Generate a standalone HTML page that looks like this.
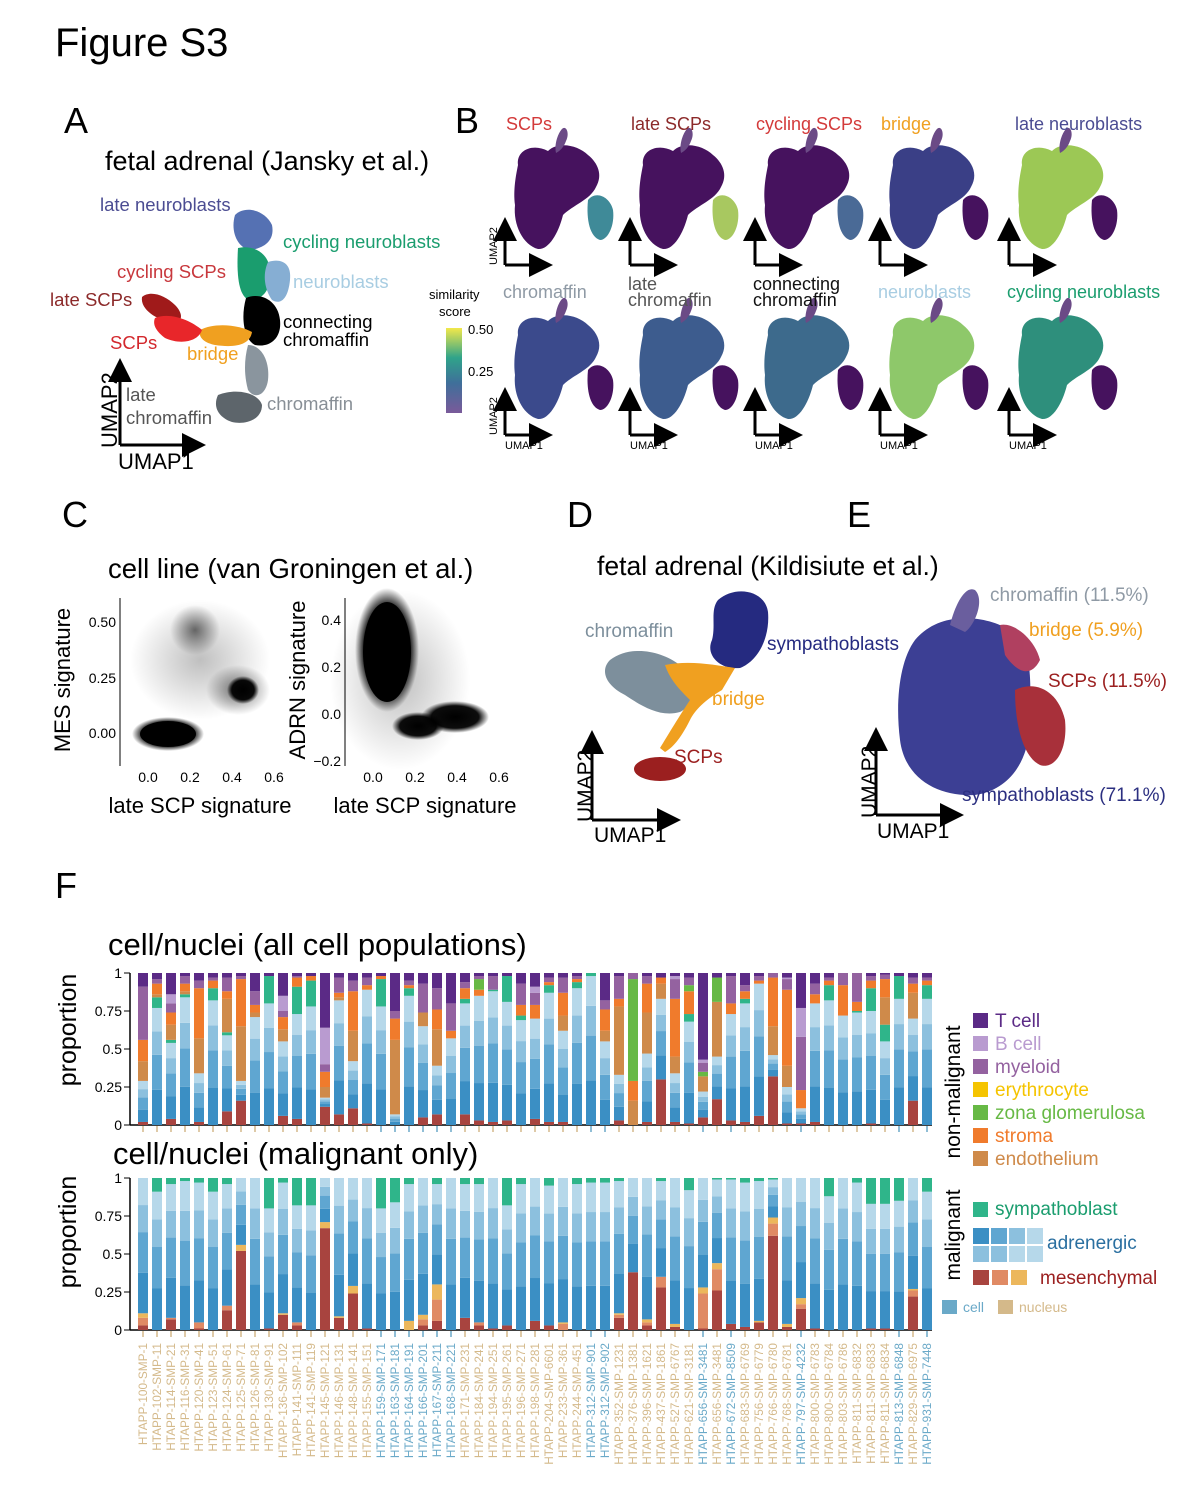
<!DOCTYPE html>
<html><head><meta charset="utf-8">
<style>
body{margin:0;background:#fff;}
svg text{font-family:"Liberation Sans",Arial,sans-serif;}
</style></head>
<body>
<svg id="fig" width="1200" height="1491" viewBox="0 0 1200 1491" xmlns="http://www.w3.org/2000/svg">
<defs>
  <linearGradient id="viridis" x1="0" y1="1" x2="0" y2="0">
    <stop offset="0" stop-color="#7a5a9a"/><stop offset="0.35" stop-color="#3f6f9a"/><stop offset="0.65" stop-color="#2fa38a"/><stop offset="1" stop-color="#f2e84a"/>
  </linearGradient>
  <radialGradient id="dense"><stop offset="0" stop-color="#000" stop-opacity="1"/><stop offset="0.7" stop-color="#000" stop-opacity="0.95"/><stop offset="1" stop-color="#000" stop-opacity="0"/></radialGradient>
  <radialGradient id="sparse"><stop offset="0" stop-color="#000" stop-opacity="0.55"/><stop offset="1" stop-color="#000" stop-opacity="0"/></radialGradient>
  <radialGradient id="faint"><stop offset="0" stop-color="#000" stop-opacity="0.25"/><stop offset="1" stop-color="#000" stop-opacity="0"/></radialGradient>
  <marker id="arr" markerWidth="8" markerHeight="8" refX="6" refY="4" orient="auto"><path d="M0,0 L8,4 L0,8 z" fill="#000"/></marker>
  <path id="bmain" d="M0,20 C-2,5 15,-2 30,6 C40,-4 60,0 70,10 C80,18 85,30 78,42 C72,55 55,60 45,70 C40,90 30,105 20,104 C5,100 -5,80 -3,60 C-5,45 -2,30 0,20 Z"/>
  <path id="bsat" d="M70,55 C78,45 92,52 95,65 C97,80 90,95 82,95 C72,92 68,75 70,55 Z"/>
  <path id="btop" d="M38,8 C36,0 40,-12 44,-16 C48,-20 52,-12 48,-4 C46,2 42,6 38,8 Z"/>
</defs>

<text x="55" y="56" font-size="40">Figure S3</text>

<!-- Panel A -->
<g>
<text x="64" y="133" font-size="36">A</text>
<text x="105" y="170" font-size="27">fetal adrenal (Jansky et al.)</text>
<g>
  <path d="M235,215 C245,205 265,210 272,225 C275,240 265,248 250,250 C238,248 230,232 235,215Z" fill="#5571b3"/>
  <path d="M238,248 C250,245 268,250 270,270 C272,290 262,300 250,300 C240,298 236,280 238,248Z" fill="#1a9d6e"/>
  <path d="M268,262 C280,258 292,262 290,280 C288,300 280,305 272,300 C265,290 262,275 268,262Z" fill="#86aed3"/>
  <path d="M246,298 C260,292 278,300 280,320 C282,338 270,348 255,345 C245,340 240,320 246,298Z" fill="#000"/>
  <path d="M200,330 C215,322 240,325 252,332 C250,345 235,348 215,345 C205,343 198,338 200,330Z" fill="#f0a020"/>
  <path d="M142,297 C150,290 165,295 175,305 C185,315 182,325 170,322 C158,320 140,310 142,297Z" fill="#a01a1a"/>
  <path d="M155,318 C170,312 190,320 202,330 C198,342 180,345 165,338 C157,332 152,325 155,318Z" fill="#e8262a"/>
  <path d="M248,345 C262,345 270,362 268,380 C266,395 255,400 248,390 C244,375 244,360 248,345Z" fill="#8a959e"/>
  <path d="M218,395 C235,388 258,392 262,405 C262,420 245,425 232,422 C220,418 212,408 218,395Z" fill="#5d656b"/>
</g>
<text x="100" y="211" font-size="18.5" fill="#4b4c92">late neuroblasts</text>
<text x="283" y="248" font-size="18.5" fill="#1a9d6e">cycling neuroblasts</text>
<text x="117" y="278" font-size="18.5" fill="#c8383d">cycling SCPs</text>
<text x="293" y="288" font-size="18.5" fill="#a8cde2">neuroblasts</text>
<text x="50" y="306" font-size="18.5" fill="#8c2a2a">late SCPs</text>
<text x="283" y="328" font-size="18.5">connecting</text>
<text x="283" y="346" font-size="18.5">chromaffin</text>
<text x="110" y="349" font-size="18.5" fill="#d3282d">SCPs</text>
<text x="187" y="360" font-size="18.5" fill="#f0a020">bridge</text>
<text x="126" y="401" font-size="18.5" fill="#555">late</text>
<text x="126" y="424" font-size="18.5" fill="#555">chromaffin</text>
<text x="267" y="410" font-size="18.5" fill="#888f96">chromaffin</text>
<line x1="120" y1="445" x2="120" y2="364" stroke="#000" stroke-width="3" marker-end="url(#arr)"/>
<line x1="120" y1="445" x2="200" y2="445" stroke="#000" stroke-width="3" marker-end="url(#arr)"/>
<text x="118" y="469" font-size="22">UMAP1</text>
<text transform="translate(117,448) rotate(-90)" font-size="22">UMAP2</text>
</g>

<!-- Panel B -->
<g id="panelB">
<text x="455" y="133" font-size="36">B</text>
<text x="429" y="299" font-size="13">similarity</text>
<text x="439" y="316" font-size="13">score</text>
<rect x="446" y="328" width="16" height="85" fill="url(#viridis)"/>
<text x="468" y="334" font-size="13">0.50</text>
<text x="468" y="376" font-size="13">0.25</text>
</g>

<!-- Panel C -->
<g>
<text x="62" y="527" font-size="36">C</text>
<text x="108" y="578" font-size="27.5">cell line (van Groningen et al.)</text>
<g>
  <line x1="120" y1="598" x2="120" y2="766" stroke="#000"/>
  <ellipse cx="200" cy="660" rx="70" ry="60" fill="url(#faint)"/>
  <ellipse cx="195" cy="630" rx="25" ry="25" fill="url(#sparse)"/>
  <ellipse cx="238" cy="690" rx="32" ry="25" fill="url(#sparse)"/>
  <ellipse cx="243" cy="690" rx="16" ry="14" fill="url(#dense)"/>
  <ellipse cx="168" cy="734" rx="36" ry="17" fill="url(#dense)"/>
  <ellipse cx="168" cy="734" rx="28" ry="13" fill="#000"/>
  <text x="148" y="782" font-size="14" text-anchor="middle">0.0</text><text x="190" y="782" font-size="14" text-anchor="middle">0.2</text>
  <text x="232" y="782" font-size="14" text-anchor="middle">0.4</text><text x="274" y="782" font-size="14" text-anchor="middle">0.6</text>
  <text x="116" y="627" font-size="14" text-anchor="end">0.50</text><text x="116" y="683" font-size="14" text-anchor="end">0.25</text><text x="116" y="738" font-size="14" text-anchor="end">0.00</text>
  <text x="200" y="813" font-size="22" text-anchor="middle">late SCP signature</text>
  <text transform="translate(70,680) rotate(-90)" font-size="22" text-anchor="middle">MES signature</text>
</g>
<g>
  <line x1="345" y1="598" x2="345" y2="766" stroke="#000"/>
  <ellipse cx="400" cy="680" rx="70" ry="90" fill="url(#faint)"/>
  <ellipse cx="387" cy="650" rx="32" ry="62" fill="url(#dense)"/>
  <ellipse cx="387" cy="652" rx="24" ry="50" fill="#000"/>
  <ellipse cx="455" cy="717" rx="34" ry="16" fill="url(#dense)"/>
  <ellipse cx="418" cy="726" rx="26" ry="14" fill="url(#dense)"/>
  <text x="373" y="782" font-size="14" text-anchor="middle">0.0</text><text x="415" y="782" font-size="14" text-anchor="middle">0.2</text>
  <text x="457" y="782" font-size="14" text-anchor="middle">0.4</text><text x="499" y="782" font-size="14" text-anchor="middle">0.6</text>
  <text x="341" y="625" font-size="14" text-anchor="end">0.4</text><text x="341" y="672" font-size="14" text-anchor="end">0.2</text>
  <text x="341" y="719" font-size="14" text-anchor="end">0.0</text><text x="341" y="766" font-size="14" text-anchor="end">−0.2</text>
  <text x="425" y="813" font-size="22" text-anchor="middle">late SCP signature</text>
  <text transform="translate(305,680) rotate(-90)" font-size="22" text-anchor="middle">ADRN signature</text>
</g>
</g>

<!-- Panel D -->
<g>
<text x="567" y="527" font-size="36">D</text>
<text x="597" y="575" font-size="26.5">fetal adrenal (Kildisiute et al.)</text>
<path d="M610,660 C630,645 660,650 680,665 C700,680 695,705 680,712 C660,718 640,705 625,695 C605,685 600,670 610,660Z" fill="#7d8f9c"/>
<path d="M718,600 C735,585 765,590 768,612 C770,635 760,660 740,668 C720,670 705,655 712,640 C716,625 710,610 718,600Z" fill="#252a80"/>
<path d="M665,665 C690,660 715,665 735,668 L722,690 C705,700 695,710 690,720 C680,740 672,748 665,752 L660,748 C668,735 680,715 690,700 C680,690 670,680 665,665Z" fill="#f0a020"/>
<ellipse cx="660" cy="769" rx="26" ry="12" fill="#9b1f1f"/>
<text x="585" y="637" font-size="19" fill="#7d8f9c">chromaffin</text>
<text x="767" y="650" font-size="19" fill="#252a80">sympathoblasts</text>
<text x="712" y="705" font-size="19" fill="#f0a020">bridge</text>
<text x="674" y="763" font-size="19" fill="#9b1f1f">SCPs</text>
<line x1="592" y1="820" x2="592" y2="736" stroke="#000" stroke-width="3" marker-end="url(#arr)"/>
<line x1="592" y1="820" x2="675" y2="820" stroke="#000" stroke-width="3" marker-end="url(#arr)"/>
<text x="594" y="842" font-size="21">UMAP1</text>
<text transform="translate(592,822) rotate(-90)" font-size="21">UMAP2</text>
</g>

<!-- Panel E -->
<g>
<text x="847" y="527" font-size="36">E</text>
<path d="M915,640 C940,610 985,615 1010,630 C1035,645 1030,690 1030,720 C1030,760 1010,790 975,795 C940,797 905,780 900,740 C895,700 900,660 915,640Z" fill="#3c3f94"/>
<path d="M950,625 C955,605 965,585 975,590 C985,600 975,625 965,632Z" fill="#6a5e9e"/>
<path d="M1015,690 C1035,680 1058,690 1065,720 C1068,750 1055,770 1040,765 C1025,758 1015,730 1015,690Z" fill="#a8303a"/>
<path d="M1000,625 C1015,622 1035,640 1040,660 C1030,680 1015,670 1005,655Z" fill="#b04060"/>
<text x="990" y="601" font-size="19" fill="#8f9aa5">chromaffin (11.5%)</text>
<text x="1029" y="636" font-size="19" fill="#f0a020">bridge (5.9%)</text>
<text x="1048" y="687" font-size="19" fill="#9b1f1f">SCPs (11.5%)</text>
<text x="962" y="801" font-size="19" fill="#2b2f80">sympathoblasts (71.1%)</text>
<line x1="876" y1="815" x2="876" y2="733" stroke="#000" stroke-width="3" marker-end="url(#arr)"/>
<line x1="876" y1="815" x2="958" y2="815" stroke="#000" stroke-width="3" marker-end="url(#arr)"/>
<text x="877" y="838" font-size="21">UMAP1</text>
<text transform="translate(876,818) rotate(-90)" font-size="21">UMAP2</text>
</g>

<!-- Panel F -->
<g id="panelF">
<text x="55" y="898" font-size="36">F</text>
<text x="108" y="955" font-size="31">cell/nuclei (all cell populations)</text>
<text x="113" y="1164" font-size="31">cell/nuclei (malignant only)</text>
<text transform="translate(76,1030) rotate(-90)" font-size="25" text-anchor="middle">proportion</text>
<text transform="translate(76,1232) rotate(-90)" font-size="25" text-anchor="middle">proportion</text>
</g>
<g id="legend">
<text transform="translate(960,1092) rotate(-90)" font-size="21" text-anchor="middle">non-malignant</text>
<text transform="translate(960,1235) rotate(-90)" font-size="21" text-anchor="middle">malignant</text>
</g>
</svg>
<script>
const NS='http://www.w3.org/2000/svg';
function mk(tag,attrs,parent){const e=document.createElementNS(NS,tag);for(const k in attrs)e.setAttribute(k,attrs[k]);(parent||document.getElementById('fig')).appendChild(e);return e;}

// ---- Panel B small UMAPs ----
const bTitles=['SCPs','late SCPs','cycling SCPs','bridge','late neuroblasts','chromaffin','late chromaffin','connecting chromaffin','neuroblasts','cycling neuroblasts'];
const bTitleColors=['#d33a3a','#8c2a2a','#d33a3a','#f0a020','#4b4c92','#8f9aa5','#555','#111','#a8cde2','#1a9d6e'];
const bMainColor=['#46125e','#46125e','#46125e','#3a3f86','#9cc855','#3b4a8c','#3d5c8e','#3d6a8c','#8ec86a','#2e8f7c'];
const bSatColor=['#3f8a98','#a8c860','#4a6a96','#46125e','#46125e','#46125e','#46125e','#46125e','#46125e','#46125e'];
const bCols=[518,643,768,893,1022];
const bRows=[145,315];
const pB=document.getElementById('panelB');
for(let i=0;i<10;i++){
  const x=bCols[i%5], y=bRows[Math.floor(i/5)];
  const g=mk('g',{transform:`translate(${x},${y})`},pB);
  
  
  mk('use',{href:'#bmain',fill:bMainColor[i]},g);
  mk('use',{href:'#bsat',fill:bSatColor[i]},g);
  mk('use',{href:'#btop',fill:'#6b4a86'},g);
  const ax=x-13, ay=y+120;
  mk('line',{x1:ax,y1:ay,x2:ax,y2:ay-42,stroke:'#000','stroke-width':3,'marker-end':'url(#arr)'},pB);
  mk('line',{x1:ax,y1:ay,x2:ax+42,y2:ay,stroke:'#000','stroke-width':3,'marker-end':'url(#arr)'},pB);
  if(i>=5){const t=mk('text',{x:ax,y:ay+14,'font-size':11},pB);t.textContent='UMAP1';}
  const lines=bTitles[i]==='late chromaffin'?['late','chromaffin']:bTitles[i]==='connecting chromaffin'?['connecting','chromaffin']:[bTitles[i]];
  const ty=i<5?130:(lines.length>1?290:298);
  lines.forEach((l,j)=>{const t=mk('text',{x:(i<5?x-12:x-15)+(i===4?5:0),y:ty+j*16,'font-size':18,fill:bTitleColors[i]},pB);
    
    
    t.textContent=l;});
}
[0,1].forEach(r=>{const t=mk('text',{transform:`translate(497,${r?435:265}) rotate(-90)`,'font-size':11},pB);t.textContent='UMAP2';});

// ---- Panel F stacked bars ----
const samples=['HTAPP-100-SMP-1','HTAPP-102-SMP-11','HTAPP-114-SMP-21','HTAPP-116-SMP-31','HTAPP-120-SMP-41','HTAPP-123-SMP-51','HTAPP-124-SMP-61','HTAPP-125-SMP-71','HTAPP-126-SMP-81','HTAPP-130-SMP-91','HTAPP-136-SMP-102','HTAPP-141-SMP-111','HTAPP-141-SMP-119','HTAPP-145-SMP-121','HTAPP-146-SMP-131','HTAPP-148-SMP-141','HTAPP-155-SMP-151','HTAPP-159-SMP-171','HTAPP-163-SMP-181','HTAPP-164-SMP-191','HTAPP-166-SMP-201','HTAPP-167-SMP-211','HTAPP-168-SMP-221','HTAPP-171-SMP-231','HTAPP-184-SMP-241','HTAPP-194-SMP-251','HTAPP-195-SMP-261','HTAPP-196-SMP-271','HTAPP-198-SMP-281','HTAPP-204-SMP-6601','HTAPP-233-SMP-361','HTAPP-244-SMP-451','HTAPP-312-SMP-901','HTAPP-312-SMP-902','HTAPP-352-SMP-1231','HTAPP-376-SMP-1381','HTAPP-396-SMP-1621','HTAPP-437-SMP-1861','HTAPP-527-SMP-6767','HTAPP-621-SMP-3181','HTAPP-656-SMP-3481','HTAPP-656-SMP-3481','HTAPP-672-SMP-8509','HTAPP-683-SMP-6769','HTAPP-756-SMP-6779','HTAPP-766-SMP-6780','HTAPP-768-SMP-6781','HTAPP-797-SMP-4232','HTAPP-800-SMP-6783','HTAPP-800-SMP-6784','HTAPP-803-SMP-6786','HTAPP-811-SMP-6832','HTAPP-811-SMP-6833','HTAPP-811-SMP-6834','HTAPP-813-SMP-6848','HTAPP-829-SMP-6975','HTAPP-931-SMP-7448'];
const sampleType=['n','n','n','n','n','n','n','n','n','n','n','n','n','n','n','n','n','c','c','c','c','c','c','n','n','n','n','n','n','n','n','n','c','c','n','n','n','n','n','n','c','n','c','n','n','n','n','c','n','n','n','n','n','n','c','n','c'];
// top chart (all populations)
const topMes=[.02,0,.04,0,.02,0,.09,.16,0,0,.06,.04,0,.12,.07,.11,.01,0,0,0,.05,.07,0,.07,.03,.02,.03,0,.04,.02,.02,0,0,0,.03,0,.02,.3,.02,.01,.05,.17,.03,.02,.06,.32,.01,.01,.02,0,0,0,.01,0,0,.16,0];
const topAdr=[.27,.77,.5,.84,.32,.82,.5,.13,.71,.8,.49,.69,.78,.06,.75,.31,.88,.78,.07,.85,.6,.32,.57,.73,.82,.86,.78,.69,.66,.85,.6,.9,.98,.55,.3,0,.45,.53,.32,.67,.17,.28,.7,.78,.87,.14,.24,.1,.78,.82,.72,.74,.74,.55,.83,.54,.83];
const topSymp=[0,.07,.02,.02,0,.08,.02,0,0,.18,0,.18,.17,0,0,0,0,.18,0,.05,0,0,0,.03,0,.01,.17,.03,0,.05,0,.04,.02,0,0,0,0,0,0,.05,0,0,0,.03,0,0,0,0,0,.1,0,.01,.15,.11,.15,0,.09];
const topEndo=[.13,.02,.1,.02,.23,0,.22,.36,.03,0,.08,0,0,.07,.02,.2,0,0,.49,0,.09,.24,0,0,0,0,0,0,0,0,.1,0,0,.07,.45,.16,.27,.1,.11,0,.1,.36,0,0,0,.19,.14,0,0,0,0,0,0,.18,0,.17,0];
const topStroma=[.14,.07,.08,.05,.33,.05,.05,.31,.05,0,.08,.06,.03,.1,.03,.26,.03,.02,.14,.02,0,.13,.05,.07,.04,0,0,.07,.09,.02,.15,.02,0,.14,.05,.13,.19,.04,.38,.15,0,0,.07,.05,.02,.32,.5,.12,.06,.03,.2,.06,.05,.12,0,.06,.03];
const topZona=[0,0,0,0,0,0,0,0,0,0,0,0,0,0,0,0,0,0,0,0,0,0,0,0,.07,0,0,0,0,0,0,0,0,0,0,.67,0,0,0,.04,.03,.16,0,0,0,0,0,0,0,0,0,0,0,0,0,0,0];
const topMyeloid=[.35,.03,.06,.05,.05,.02,.09,.02,.09,0,.04,.01,0,.05,.1,.07,.05,0,.05,.03,.19,.14,.18,.04,.02,.09,0,.14,.08,.03,.1,.02,0,.06,.15,.04,.05,0,.13,.05,.06,0,.18,.04,.03,.03,.07,.35,.07,.02,.08,.19,.03,.03,0,.04,.02];
const topBcell=[0,0,.06,0,0,0,0,0,0,0,.1,0,0,.24,0,0,0,0,0,0,0,0,0,0,0,0,0,0,.04,0,0,0,0,0,0,0,0,0,.02,0,.02,0,0,0,0,0,.01,.19,0,0,0,0,0,0,0,0,0];
// bottom chart (malignant only)
const botMes=[.03,0,.07,0,.01,0,.13,.52,0,.01,.1,.03,0,.67,.08,.24,.01,0,0,0,.03,.06,0,.08,.03,.01,.03,0,.06,.03,0,0,0,0,.08,.38,.03,.28,.02,0,.01,.26,.04,.02,.05,.62,.02,.14,.01,0,0,0,.01,.01,0,.22,0];
const botMes2=[.05,0,.01,0,.04,0,.03,0,0,0,0,.02,0,0,0,0,0,0,0,0,.04,.14,0,0,.02,0,0,0,0,0,.04,0,0,0,.02,0,.02,.07,0,0,.23,.14,0,0,0,.08,0,.03,0,0,0,0,0,0,0,.04,0];
const botMes3=[.03,0,0,0,0,0,0,.04,0,0,.01,0,0,.04,.01,.05,0,0,0,.06,.03,.1,0,0,0,0,0,0,0,0,.01,0,0,0,.01,0,.02,0,.02,0,.04,.04,0,0,.01,.04,.02,.04,0,0,0,0,0,0,0,.01,0];
const botSymp=[0,.09,.04,.02,.03,.09,.04,0,0,.2,.03,.18,.18,0,0,0,0,.2,.16,.04,0,.04,0,.04,.04,0,.18,.04,0,.05,0,.04,.03,.03,.02,0,0,.02,0,.08,0,.01,.01,.03,.02,.01,0,0,0,.12,0,.03,.17,.17,.15,0,.09];

const yTicks=[0,0.25,0.5,0.75,1];
const yTickLabels=['0','0.25','0.5','0.75','1'];
const C={tcell:'#5b2a86',bcell:'#b99bd0',myeloid:'#9462a0',ery:'#f5c400',zona:'#67b945',stroma:'#f07b2c',endo:'#cf8a4a',symp:'#2fb58a',adr:['#3b8fc4','#5fa6d1','#8cc0de','#b6d8ea'],mes:['#a8443f','#e08a64','#ecb75c']};
const adrSplit=[.3,.3,.2,.2];
const X0=143, DX=(927-143)/(samples.length-1), BW=10;
const xPos=i=>X0+i*DX;
const fig=document.getElementById('panelF');
function yScale(base){return v=>base-v*152;}
function axes(base,name){
  const ys=yScale(base);
  const ax=mk('line',{x1:130,y1:base,x2:932,y2:base,stroke:'#000','stroke-width':1.5},fig);
  
  
  const ay=mk('line',{x1:130,y1:ys(1),x2:130,y2:base,stroke:'#000','stroke-width':1.5},fig);
  
  
  yTicks.forEach((t,k)=>{
    mk('line',{x1:124,y1:ys(t),x2:130,y2:ys(t),stroke:'#000'},fig);
    const tx=mk('text',{x:122,y:ys(t)+5,'font-size':14,'text-anchor':'end'},fig);
    
    
    tx.textContent=yTickLabels[k];
  });
  samples.forEach((s,i)=>mk('line',{x1:xPos(i),y1:base+1,x2:xPos(i),y2:base+7,stroke:sampleType[i]==='c'?'#6aa9c8':'#d4b98a','stroke-width':1.5},fig));
}
function stack(base,i,segs,name){
  const ys=yScale(base);let acc=0;
  segs.forEach(([v,col])=>{ if(v<=0)return;
    const r=mk('rect',{x:xPos(i)-BW/2,y:ys(acc+v),width:BW,height:v*152,fill:col},fig);
    
    
    acc+=v;});
}
axes(1125,'top-chart');
axes(1330,'bottom-chart');
samples.forEach((s,i)=>{
  const a=topAdr[i];
  const used=topMes[i]+a+topSymp[i]+topEndo[i]+topStroma[i]+topZona[i]+topMyeloid[i]+topBcell[i];
  stack(1125,i,[[topMes[i],C.mes[0]],[a*adrSplit[0],C.adr[0]],[a*adrSplit[1],C.adr[1]],[a*adrSplit[2],C.adr[2]],[a*adrSplit[3],C.adr[3]],[topSymp[i],C.symp],[topEndo[i],C.endo],[topStroma[i],C.stroma],[topZona[i],C.zona],[topMyeloid[i],C.myeloid],[topBcell[i],C.bcell],[Math.max(0,1-used),C.tcell]],'top-bar-segment');
  const bm=botMes[i]+botMes2[i]+botMes3[i]+botSymp[i];
  const ba=Math.max(0,1-bm);
  stack(1330,i,[[botMes[i],C.mes[0]],[botMes2[i],C.mes[1]],[botMes3[i],C.mes[2]],[ba*adrSplit[0],C.adr[0]],[ba*adrSplit[1],C.adr[1]],[ba*adrSplit[2],C.adr[2]],[ba*adrSplit[3],C.adr[3]],[botSymp[i],C.symp]],'bottom-bar-segment');
  const t=mk('text',{transform:`translate(${xPos(i)+4},1343) rotate(-90)`,'font-size':11.8,'text-anchor':'end',fill:sampleType[i]==='c'?'#6aa9c8':'#d4b98a'},fig);
  
  
  t.textContent=s;
});

// ---- Legend ----
const lg=document.getElementById('legend');
const legNames=['T cell','B cell','myeloid','erythrocyte','zona glomerulosa','stroma','endothelium'];
const legCols=[C.tcell,C.bcell,C.myeloid,C.ery,C.zona,C.stroma,C.endo];
const legTextCols=['#5b2a86','#b99bd0','#9462a0','#f5c400','#67b945','#f07b2c','#cf8a4a'];
legNames.forEach((n,k)=>{
  const y=1027+k*23;
  mk('rect',{x:973,y:y-14,width:15,height:15,fill:legCols[k]},lg);
  const t=mk('text',{x:995,y:y,'font-size':19,fill:legTextCols[k]},lg);
  
  
  t.textContent=n;
});
mk('rect',{x:973,y:1202,width:15,height:15,fill:C.symp},lg);
let t=mk('text',{x:995,y:1215,'font-size':19,fill:'#1a9d6e'},lg);t.textContent='sympathoblast';
[0,1].forEach(r=>C.adr.forEach((c,k)=>mk('rect',{x:973+k*18,y:1228+r*18,width:16,height:16,fill:r?C.adr[3-k>1?2:3]:c},lg)));
t=mk('text',{x:1047,y:1249,'font-size':19,fill:'#2a6fa0'},lg);t.textContent='adrenergic';
C.mes.forEach((c,k)=>mk('rect',{x:973+k*19,y:1270,width:16,height:15,fill:c},lg));
t=mk('text',{x:1040,y:1284,'font-size':19,fill:'#9b1f1f'},lg);t.textContent='mesenchymal';
mk('rect',{x:942,y:1300,width:15,height:14,fill:'#6aa9c8'},lg);
t=mk('text',{x:963,y:1312,'font-size':14,fill:'#6aa9c8'},lg);t.textContent='cell';
mk('rect',{x:998,y:1300,width:15,height:14,fill:'#d4b98a'},lg);
t=mk('text',{x:1019,y:1312,'font-size':14,fill:'#d4b98a'},lg);t.textContent='nucleus';
</script>
</body></html>
